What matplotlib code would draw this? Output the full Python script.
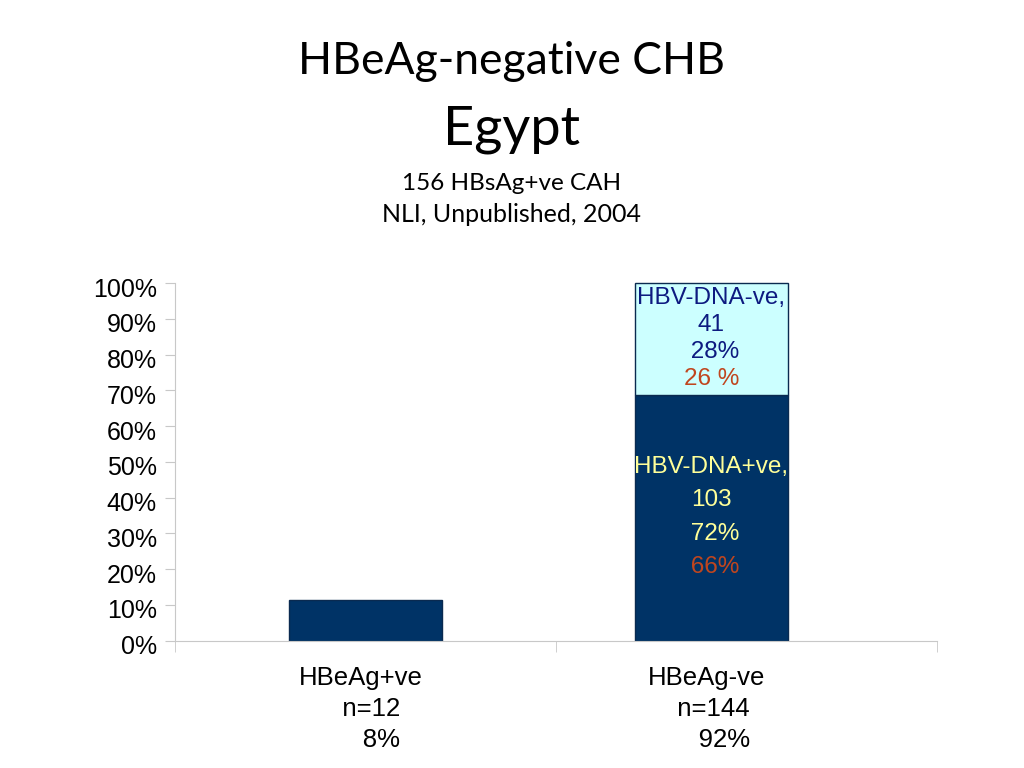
import matplotlib.pyplot as plt
import matplotlib.transforms as mtransforms
import numpy as np

# data
groups = ["HBeAg+ve\n   n=12\n      8%", "HBeAg-ve\n  n=144\n     92%"]
dna_pos = [11.4, 68.7]      # dark part of each bar (%)
dna_neg = [0, 31.3]         # light part stacked on top (%)
neg_lines = ["HBV-DNA-ve,", "41", " 28%", "26 %"]
pos_lines = ["HBV-DNA+ve,", "103", " 72%", " 66%"]
yticks = np.arange(0, 101, 10)

navy = "#003366"
cyan = "#ccffff"
grid_grey = "#c8c8c8"

plt.rcParams['font.family'] = ['Liberation Sans', 'DejaVu Sans']

fig = plt.figure(figsize=(10.24, 7.68), dpi=100)
ax = fig.add_axes([0.1709, 0.1657, 0.7441, 0.4655])

xpos = np.array([0, 0.908])
ax.bar(xpos, dna_pos, width=0.40, color=navy, edgecolor="#0a2a50", linewidth=1)
ax.bar(xpos[1], dna_neg[1], bottom=dna_pos[1], width=0.40, color=cyan,
       edgecolor="#0a2a50", linewidth=1, clip_on=False)

ax.set_xlim(-0.5, 1.5)
ax.set_ylim(0, 100)
ax.set_yticks(yticks)
ax.set_yticklabels([f"{v}%" for v in yticks], fontsize=18)
ax.set_xticks(xpos)
ax.set_xticklabels(groups, fontsize=18.5, linespacing=1.37)
ax.set_xticks([-0.5, 0.5, 1.5], minor=True)
ax.tick_params(axis='x', which='major', length=0, pad=18)
ax.tick_params(axis='x', which='minor', length=8, color=grid_grey, direction='out')
ax.tick_params(axis='y', length=7, color=grid_grey, pad=6)

# y labels sit a little below their ticks in the reference
shift = mtransforms.ScaledTranslation(0, -4 / 100, fig.dpi_scale_trans)
for lab in ax.get_yticklabels():
    lab.set_transform(lab.get_transform() + shift)
# x labels sit slightly left of the bar centres
xshift = mtransforms.ScaledTranslation(-5 / 100, 0, fig.dpi_scale_trans)
for lab in ax.get_xticklabels():
    lab.set_transform(lab.get_transform() + xshift)

for s in ["top", "right"]:
    ax.spines[s].set_visible(False)
for s in ["left", "bottom"]:
    ax.spines[s].set_color(grid_grey)

# labels inside the HBeAg-ve bar
cx = xpos[1]
top = dna_pos[1] + dna_neg[1]
neg_cols = ["#0d1a80", "#0d1a80", "#0d1a80", "#c0461e"]
for i, (t, c) in enumerate(zip(neg_lines, neg_cols)):
    ax.text(cx, top - 4.0 - i * 7.6, t, color=c, fontsize=17.5,
            ha="center", va="center")
pos_cols = ["#ffff99", "#ffff99", "#ffff99", "#c0461e"]
for i, (t, c) in enumerate(zip(pos_lines, pos_cols)):
    ax.text(cx, dna_pos[1] - 20.0 - i * 9.4, t, color=c, fontsize=17.5,
            ha="center", va="center")

# titles
fig.text(0.5, 1 - 62 / 768, "HBeAg-negative CHB", fontsize=32, ha="center",
         va="center", family=["Lato", "DejaVu Sans"])
fig.text(0.5, 1 - 130 / 768, "Egypt", fontsize=39, ha="center",
         va="center", family=["Lato", "DejaVu Sans"])
fig.text(0.5, 1 - 183 / 768, "156 HBsAg+ve CAH", fontsize=17.5, ha="center",
         va="center", family=["Lato", "DejaVu Sans"])
fig.text(0.5, 1 - 215 / 768, "NLI, Unpublished, 2004", fontsize=18, ha="center",
         va="center", family=["Lato", "DejaVu Sans"])

fig.savefig("out.png", dpi=100)
